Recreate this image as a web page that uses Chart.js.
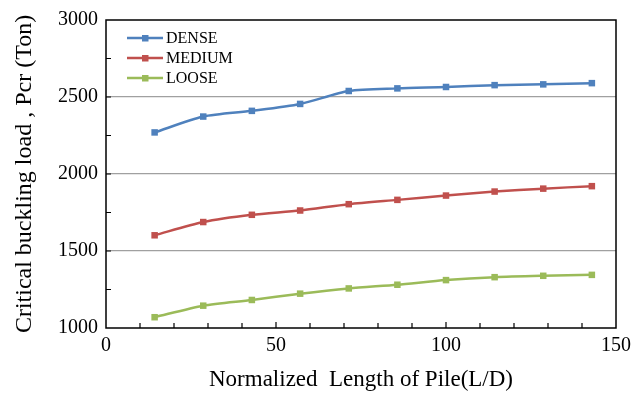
<!DOCTYPE html>
<html>
<head>
<meta charset="utf-8">
<script src="https://cdn.jsdelivr.net/npm/chart.js@4/dist/chart.umd.min.js"></script>
<style>
  body { margin: 0; background: #fff; }
  canvas { display: block; }
</style>
</head>
<body>
<canvas id="pile-chart" width="644" height="394"></canvas>
<script>
// L/D ratios and buckling loads (Ton) for each soil condition
const ratios = [14.3, 28.6, 42.9, 57.1, 71.4, 85.7, 100, 114.3, 128.6, 142.9];
const dense = [2270, 2373, 2410, 2455, 2539, 2556, 2565, 2577, 2582, 2590];
const medium = [1602, 1688, 1735, 1763, 1804, 1832, 1860, 1886, 1905, 1921];
const loose = [1070, 1145, 1182, 1223, 1257, 1281, 1311, 1330, 1339, 1345];
const seriesNames = ['DENSE', 'MEDIUM', 'LOOSE'];
const seriesColors = ['#4f81bd', '#c0504d', '#9bbb59'];

const serif = '"Liberation Serif", "Times New Roman", serif';

const toPoints = values => values.map((v, i) => ({ x: ratios[i], y: v }));

const makeSet = (name, values, color) => ({
  label: name,
  data: toPoints(values),
  borderColor: color,
  backgroundColor: color,
  borderWidth: 2.5,
  pointStyle: 'rect',
  pointRadius: 4.6,
  pointHoverRadius: 4.6,
  pointBorderWidth: 0,
  tension: 0.25,
  fill: false
});

// frame, inward tick marks and the legend box inside the plot
const framePlugin = {
  id: 'frame',
  afterDraw(chart) {
    const { ctx, chartArea: a, scales } = chart;
    ctx.save();
    ctx.strokeStyle = '#000';
    ctx.lineWidth = 1.5;
    ctx.strokeRect(a.left, a.top, a.right - a.left, a.bottom - a.top);

    ctx.lineWidth = 1.2;
    ctx.beginPath();
    for (let v = 1250; v < 3000; v += 250) {
      const y = scales.y.getPixelForValue(v);
      ctx.moveTo(a.left, y);
      ctx.lineTo(a.left + 5, y);
    }
    for (let v = 10; v < 150; v += 10) {
      const x = scales.x.getPixelForValue(v);
      ctx.moveTo(x, a.bottom);
      ctx.lineTo(x, a.bottom - (v % 50 === 0 ? 6 : 5));
    }
    ctx.stroke();

    // legend
    chart.data.datasets.forEach((ds, i) => {
      const y = 38 + i * 20;
      ctx.strokeStyle = ds.borderColor;
      ctx.fillStyle = ds.borderColor;
      ctx.lineWidth = 2.5;
      ctx.beginPath();
      ctx.moveTo(127, y);
      ctx.lineTo(163, y);
      ctx.stroke();
      ctx.fillRect(142, y - 3, 6.5, 6.5);
      ctx.fillStyle = '#000';
      ctx.font = '16px ' + serif;
      ctx.textBaseline = 'middle';
      ctx.textAlign = 'left';
      ctx.fillText(ds.label, 166, y + 1);
    });
    ctx.restore();
  }
};

new Chart(document.getElementById('pile-chart'), {
  type: 'line',
  data: {
    datasets: [
      makeSet(seriesNames[0], dense, seriesColors[0]),
      makeSet(seriesNames[1], medium, seriesColors[1]),
      makeSet(seriesNames[2], loose, seriesColors[2])
    ]
  },
  options: {
    responsive: false,
    animation: false,
    layout: { padding: { top: 19, right: 28, left: 0, bottom: 0 } },
    plugins: {
      legend: { display: false },
      tooltip: { enabled: false }
    },
    scales: {
      x: {
        type: 'linear',
        min: 0,
        max: 150,
        afterFit: s => { s.height = 66; },
        ticks: {
          stepSize: 50,
          padding: 6,
          color: '#000',
          font: { family: serif, size: 20 }
        },
        grid: { display: false, drawTicks: false },
        border: { display: false },
        title: {
          display: true,
          text: 'Normalized  Length of Pile(L/D)',
          color: '#000',
          font: { family: serif, size: 23 },
          padding: { top: 0, bottom: 0 }
        }
      },
      y: {
        min: 1000,
        max: 3000,
        afterFit: s => { s.width = 106; },
        ticks: {
          stepSize: 500,
          padding: 8,
          color: '#000',
          font: { family: serif, size: 20 },
          callback: v => String(v)
        },
        grid: {
          drawTicks: false,
          color: c => (c.tick && c.tick.value > 1000 && c.tick.value < 3000) ? '#a0a0a0' : 'rgba(0,0,0,0)',
          lineWidth: 1.2
        },
        border: { display: false },
        title: {
          display: true,
          text: 'Critical buckling load , Pcr (Ton)',
          color: '#000',
          font: { family: serif, size: 24 },
          padding: { top: 10, bottom: 0 }
        }
      }
    }
  },
  plugins: [framePlugin]
});
</script>
</body>
</html>
